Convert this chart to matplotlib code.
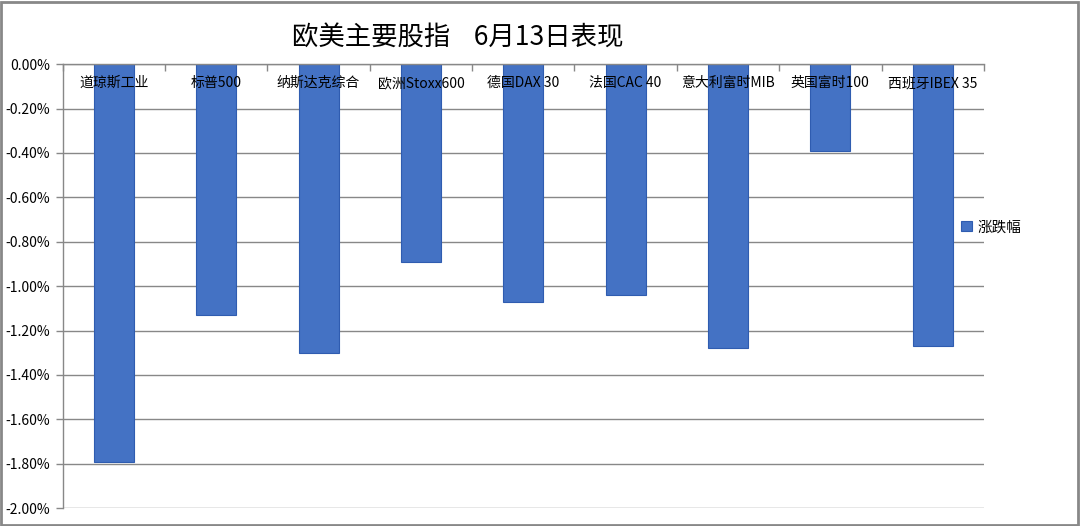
import matplotlib.pyplot as plt
import numpy as np
from matplotlib.patches import Rectangle

plt.rcParams['font.family'] = ['Noto Sans CJK SC', 'DejaVu Sans']

# 涨跌幅 in percent
indices = ['道琼斯工业', '标普500', '纳斯达克综合', '欧洲Stoxx600', '德国DAX 30',
           '法国CAC 40', '意大利富时MIB', '英国富时100', '西班牙IBEX 35']
change = [-1.79, -1.13, -1.30, -0.89, -1.07, -1.04, -1.28, -0.39, -1.27]
yticks = [0.0, -0.2, -0.4, -0.6, -0.8, -1.0, -1.2, -1.4, -1.6, -1.8, -2.0]

fig = plt.figure(figsize=(10.8, 5.26), dpi=100)
ax = fig.add_axes([0.058, 0.034, 0.853, 0.844])

x = np.arange(len(indices))
ax.bar(x, change, width=0.39, color='#4472C4', edgecolor='#2F5CB0',
       linewidth=0.8, zorder=2, label='涨跌幅')

ax.set_xlim(-0.5, len(indices) - 0.5)
ax.set_ylim(-2.0, 0.0)
ax.set_yticks(yticks)
ax.set_yticklabels([f'{v:.2f}%' for v in yticks], fontsize=10)
ax.yaxis.grid(True, color='#888888', linewidth=1.0, zorder=0)
ax.set_axisbelow(True)

# category boundary ticks along the 0 line
ax.xaxis.tick_top()
ax.set_xticks(np.arange(len(indices) + 1) - 0.5)
ax.set_xticklabels([])
ax.tick_params(axis='x', direction='in', length=5, color='#888888', width=1)
ax.tick_params(axis='y', direction='out', length=5, color='#888888', width=1, pad=4)

for i, name in enumerate(indices):
    ax.text(i, -0.085, name, ha='center', va='center', fontsize=10, zorder=3)

for side in ['right', 'bottom']:
    ax.spines[side].set_visible(False)
for side in ['left', 'top']:
    ax.spines[side].set_color('#888888')
    ax.spines[side].set_linewidth(1.0)

fig.text(0.424, 0.93, '欧美主要股指    6月13日表现', ha='center', va='center', fontsize=19)

fig.legend(loc='center left', bbox_to_anchor=(0.878, 0.568), frameon=False,
           handlelength=0.7, handleheight=0.7, handletextpad=0.4, fontsize=10.5)

fig.patches.append(Rectangle((0.001, 0.002), 0.997, 0.995, transform=fig.transFigure,
                             fill=False, edgecolor='#888888', linewidth=2))

fig.savefig('out.png', dpi=100)
